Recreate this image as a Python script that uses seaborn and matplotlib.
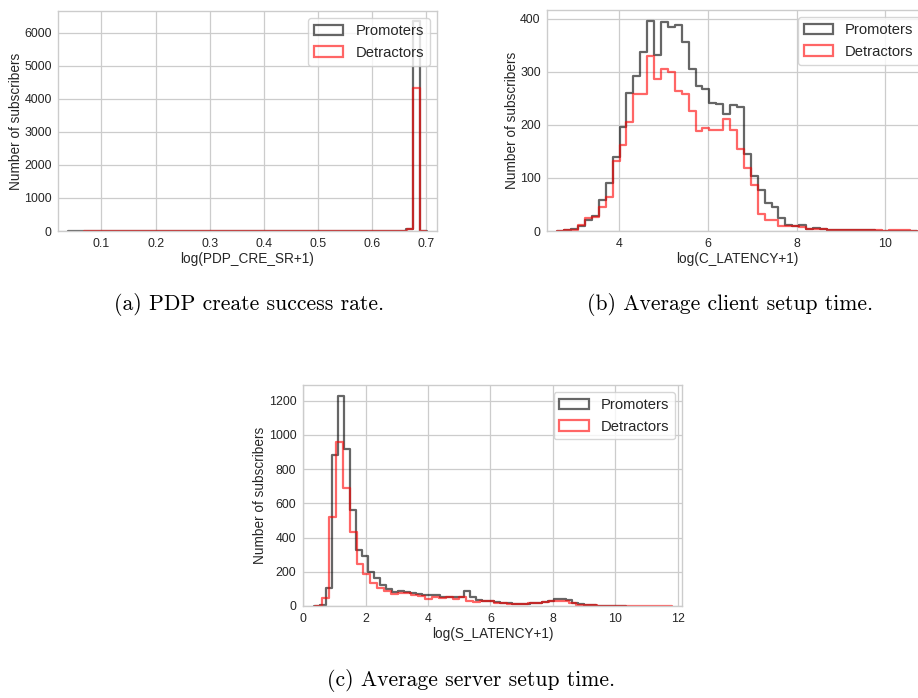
import numpy as np
import pandas as pd
import matplotlib
matplotlib.use("Agg")
import matplotlib.pyplot as plt
import matplotlib.patches as mpatches
from matplotlib.ticker import MultipleLocator
import seaborn as sns

# ---------------- data (bin ranges + counts per bin, 50 bins) ----------------
series_labels = ["Promoters", "Detractors"]
series_colors = ["black", "red"]

# (a) log(PDP_CRE_SR+1)
pdp_prom_range = (0.0515, 0.6877)
pdp_det_range = (0.0804, 0.6877)
pdp_prom_counts = [6, 4, 3, 3, 4, 3, 4, 5, 4, 5, 5, 6, 5, 6, 5, 6, 5, 6, 5, 6,
                   7, 6, 7, 6, 7, 6, 7, 8, 7, 8, 7, 8, 7, 8, 9, 8, 9, 8, 9, 8,
                   9, 10, 9, 10, 9, 10, 11, 12, 60, 6340]
pdp_det_counts = [3, 3, 2, 3, 3, 4, 3, 4, 4, 5, 4, 5, 5, 4, 5, 4, 5, 4, 5, 4,
                  5, 6, 5, 6, 5, 6, 5, 6, 5, 6, 7, 6, 7, 6, 7, 6, 7, 8, 7, 8,
                  7, 8, 7, 8, 9, 8, 9, 10, 50, 4330]

# (b) log(C_LATENCY+1)
clat_prom_range = (2.76, 10.55)
clat_det_range = (2.76, 10.55)
clat_prom_counts = [2, 4, 10, 20, 28, 58, 90, 140, 196, 261,
                    293, 338, 397, 332, 395, 385, 388, 356, 306, 274,
                    267, 242, 240, 220, 237, 233, 145, 104, 77, 52,
                    45, 24, 12, 10, 12, 3, 5, 3, 2, 2,
                    1, 1, 1, 1, 1, 0, 0, 0, 0, 0]
clat_det_counts = [1, 2, 12, 25, 27, 45, 65, 132, 163, 205,
                   259, 259, 330, 287, 305, 299, 264, 258, 226, 189,
                   195, 191, 190, 211, 190, 154, 119, 86, 33, 21,
                   20, 10, 10, 9, 7, 4, 3, 3, 2, 2,
                   2, 1, 1, 1, 1, 1, 0, 1, 1, 2]

# (c) log(S_LATENCY+1)
slat_prom_range = (0.535, 10.15)
slat_det_range = (0.61, 11.60)
slat_prom_counts = [5, 105, 880, 1230, 915, 560, 330, 290, 200, 165,
                    120, 100, 80, 90, 80, 78, 72, 65, 62, 62,
                    55, 55, 50, 55, 90, 50, 35, 30, 30, 22,
                    18, 15, 14, 12, 13, 15, 20, 25, 32, 38,
                    40, 35, 20, 12, 6, 4, 2, 2, 1, 1]
slat_det_counts = [45, 520, 960, 690, 430, 245, 185, 135, 105, 85,
                   72, 78, 75, 65, 60, 40, 50, 45, 52, 40,
                   55, 30, 25, 30, 28, 20, 15, 12, 10, 12,
                   15, 18, 22, 30, 32, 28, 15, 8, 5, 3,
                   2, 2, 1, 1, 1, 0, 1, 0, 0, 1]

xlabels = ["log(PDP_CRE_SR+1)", "log(C_LATENCY+1)", "log(S_LATENCY+1)"]
ylabel = "Number of subscribers"
captions = ["(a) PDP create success rate.",
            "(b) Average client setup time.",
            "(c) Average server setup time."]

panels = [
    ((pdp_prom_range, pdp_prom_counts), (pdp_det_range, pdp_det_counts)),
    ((clat_prom_range, clat_prom_counts), (clat_det_range, clat_det_counts)),
    ((slat_prom_range, slat_prom_counts), (slat_det_range, slat_det_counts)),
]

# ---------------- style ----------------
sns.set_theme(style="whitegrid")
plt.rcParams["font.family"] = ["Liberation Sans", "DejaVu Sans"]
plt.rcParams["axes.edgecolor"] = "0.8"
plt.rcParams["grid.color"] = "0.8"
plt.rcParams["text.color"] = "0.15"
plt.rcParams["axes.labelcolor"] = "0.15"
plt.rcParams["xtick.color"] = "0.15"
plt.rcParams["ytick.color"] = "0.15"

W, H = 918, 698
fig = plt.figure(figsize=(W / 100, H / 100), dpi=100)

# axes boxes in pixels: left, right, top, bottom
boxes = [(58, 437, 11, 231), (547, 927, 10, 231), (302.7, 682.4, 385, 606)]
xlims = [(0.0197, 0.7195), (2.37, 10.94), (-0.018, 12.15)]
xsteps = [0.1, 2, 2]
ysteps = [1000, 100, 200]

for (box, xl, pdata, xlab, xs, ys) in zip(boxes, xlims, panels, xlabels, xsteps, ysteps):
    l, r, t, b = box
    ax = fig.add_axes([l / W, (H - b) / H, (r - l) / W, (b - t) / H])
    handles = []
    for (rng, counts), col, lab in zip(pdata, series_colors, series_labels):
        n = len(counts)
        edges = np.linspace(rng[0], rng[1], n + 1)
        w = edges[1] - edges[0]
        centers = (edges[:-1] + edges[1:]) / 2
        df = pd.DataFrame({"x": centers, "w": np.asarray(counts, dtype=float)})
        # pad with empty bins so the outline drops to the baseline at both ends
        bins = [float(edges[0] - w)] + [float(e) for e in edges] + [float(edges[-1] + w)]
        sns.histplot(data=df, x="x", weights="w", bins=bins, element="step",
                     fill=False, color=col, alpha=0.6, linewidth=1.6, ax=ax)
        handles.append(mpatches.Patch(facecolor="none", edgecolor=col,
                                      alpha=0.6, linewidth=1.6, label=lab))
    ax.set_xlim(*xl)
    ax.xaxis.set_major_locator(MultipleLocator(xs))
    ax.yaxis.set_major_locator(MultipleLocator(ys))
    ax.set_xlabel(xlab, fontsize=9.8, labelpad=1.5)
    ax.set_ylabel(ylabel, fontsize=9.8, labelpad=1)
    ax.tick_params(axis="x", labelsize=8.9, length=0, pad=5)
    ax.tick_params(axis="y", labelsize=8.9, length=0, pad=4.5)
    ax.grid(True, color="0.8", linewidth=0.9)
    for s in ax.spines.values():
        s.set_color("0.8")
        s.set_linewidth(1.0)
    ax.legend(handles=handles, loc="upper right", fontsize=10.6,
              frameon=True, framealpha=0.8, edgecolor="0.8",
              fancybox=True, borderaxespad=0.5)

# captions (serif, LaTeX look)
cap_pos = [(249, 305), (730, 305), (471, 681)]
for (cx, cy), txt in zip(cap_pos, captions):
    fig.text(cx / W, 1 - cy / H, txt, ha="center", va="center",
             fontsize=15.6, family="cmr10", color="black")

fig.savefig("out.png", dpi=100)
